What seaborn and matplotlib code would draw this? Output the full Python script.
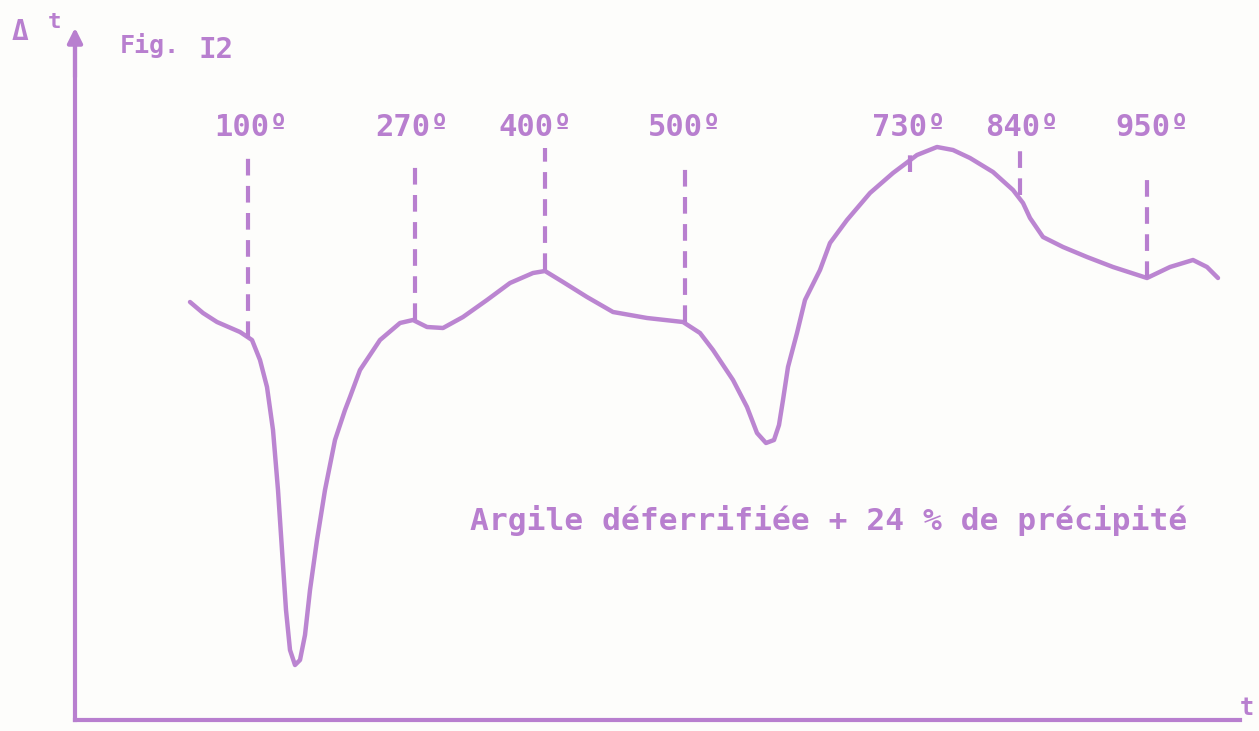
import matplotlib
matplotlib.use("Agg")
import matplotlib.pyplot as plt
import seaborn as sns
import pandas as pd

# DTA curve (x: temperature-like abscissa, y: delta t)
curve_x = [115, 128, 142, 165, 177, 185, 192, 198, 203, 207, 211, 215, 220, 225, 230,
           235, 242, 250, 260, 270, 275, 285, 305, 325, 338, 352, 368, 388, 412, 435,
           458, 470, 488, 512, 538, 572, 608, 625, 638, 658, 672, 682, 691, 699, 704,
           708, 713, 722, 730, 745, 755, 772, 795, 818, 842, 862, 878, 895, 918, 938,
           948, 955, 968, 988, 1012, 1038, 1072, 1095, 1118, 1132, 1143]
curve_y = [418, 407, 398, 388, 380, 360, 333, 290, 230, 170, 110, 70, 55, 60, 85,
           130, 180, 230, 280, 310, 323, 350, 380, 397, 400, 393, 392, 403, 420, 437,
           447, 449, 438, 423, 408, 402, 398, 387, 370, 340, 313, 287, 277, 280, 295,
           320, 353, 387, 420, 450, 477, 500, 527, 547, 565, 573, 570, 562, 548, 530,
           517, 502, 483, 473, 463, 453, 442, 453, 460, 453, 442]

peak_x = [173, 340, 470, 610, 835, 945, 1072]
peak_top = [570, 555, 572, 552, 573, 573, 550]
peak_bottom = [382, 400, 450, 398, 548, 525, 442]
peak_labels = ["100º", "270º", "400º", "500º", "730º", "840º", "950º"]
label_x = [176, 337, 460, 610, 834, 947, 1077]

title_text = "Fig. I2"
ylabel_text = "Δ t"
xlabel_text = "t"
sample_text = "Argile déferrifiée + 24 % de précipité"

purple = "#b87fcf"

sns.set_style("white")
plt.rcParams['font.family'] = ['DejaVu Sans Mono', 'DejaVu Sans']

fig = plt.figure(figsize=(12.59, 7.31), dpi=100, facecolor="#fdfdfb")
ax = fig.add_axes([75/1259, 11/731, 1165/1259, 680/731])
ax.set_facecolor("#fdfdfb")
ax.set_xlim(0, 1165)
ax.set_ylim(0, 680)

df = pd.DataFrame({"x": curve_x, "y": curve_y})
sns.lineplot(data=df, x="x", y="y", sort=False, ax=ax, color=purple,
             linewidth=3.2, alpha=0.95)

for px, top, bot in zip(peak_x, peak_top, peak_bottom):
    ax.plot([px, px], [bot, top], color=purple, linewidth=3,
            linestyle=(0, (4, 2.5)))

for lx, lab in zip(label_x, peak_labels):
    ax.text(lx, 592, lab, ha="center", va="center", color=purple,
            fontsize=22, fontweight="bold")

ax.text(395, 200, sample_text, ha="left", va="center", color=purple,
        fontsize=22.5, fontweight="bold")

# axes
for s in ["top", "right"]:
    ax.spines[s].set_visible(False)
for s in ["left", "bottom"]:
    ax.spines[s].set_color(purple)
    ax.spines[s].set_linewidth(3)
ax.set_xticks([])
ax.set_yticks([])
ax.set_xlabel("")
ax.set_ylabel("")

ax.annotate("", xy=(0, 695), xytext=(0, 640), xycoords="data",
            arrowprops=dict(arrowstyle="-|>", color=purple, lw=3,
                            mutation_scale=22), annotation_clip=False)

fig.text(12/1259, 1 - 32/731, "Δ", color=purple, fontsize=20, fontweight="bold",
         va="center", ha="left")
fig.text(48/1259, 1 - 22/731, "t", color=purple, fontsize=16, fontweight="bold",
         va="center", ha="left")
fig.text(120/1259, 1 - 45/731, "Fig.", color=purple, fontsize=18, fontweight="bold",
         va="center", ha="left")
fig.text(198/1259, 1 - 50/731, "I2", color=purple, fontsize=21, fontweight="bold",
         va="center", ha="left")
fig.text(1240/1259, 1 - 708/731, xlabel_text, color=purple, fontsize=17,
         fontweight="bold", va="center", ha="left")

fig.savefig("out.png", dpi=100, facecolor=fig.get_facecolor())
